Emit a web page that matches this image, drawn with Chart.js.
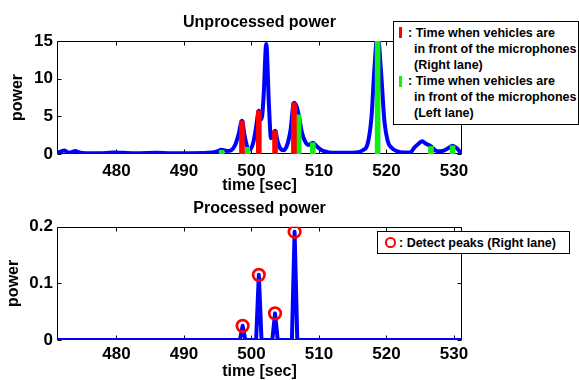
<!DOCTYPE html>
<html lang="en">
<head>
<meta charset="UTF-8">
<title>Unprocessed / Processed power</title>
<script src="https://cdn.jsdelivr.net/npm/chart.js"></script>
<style>
  body { margin: 0; width: 579px; height: 380px; overflow: hidden; background: #fff; position: relative;
         font-family: "Liberation Sans", Arial, sans-serif; }
  canvas { position: absolute; left: 0; }
  #chartRaw { top: 0; }
  #chartProc { top: 186px; }
  .legendBox { position: absolute; background: #fff; border: 1px solid #000; box-sizing: border-box;
               font-weight: bold; font-size: 12.5px; color: #000; }
  .legendBox span { position: absolute; white-space: nowrap; line-height: 16px; }
  .legendBox .bar { position: absolute; width: 3px; height: 11px; }
  .legendBox .ring { position: absolute; width: 10.7px; height: 10.7px; box-sizing: border-box;
                     border: 2px solid #ff0000; border-radius: 50%; }
</style>
</head>
<body>

<canvas id="chartRaw" width="579" height="200"></canvas>
<canvas id="chartProc" width="579" height="200"></canvas>

<div class="legendBox" style="left:393px; top:21px; width:186px; height:104px;">
  <div class="bar" style="left:5px; top:5px; background:#ff0000;"></div>
  <span style="left:14px; top:2.5px;">: Time when vehicles are</span>
  <span style="left:20px; top:18.5px;">in front of the microphones</span>
  <span style="left:20px; top:34.5px;">(Right lane)</span>
  <div class="bar" style="left:5px; top:54px; background:#11ee11;"></div>
  <span style="left:14px; top:50.5px;">: Time when vehicles are</span>
  <span style="left:20px; top:66.5px;">in front of the microphones</span>
  <span style="left:20px; top:82.5px;">(Left lane)</span>
</div>

<div class="legendBox" style="left:377px; top:231px; width:193px; height:23px;">
  <div class="ring" style="left:7px; top:5px;"></div>
  <span style="left:21px; top:3.3px;">: Detect peaks (Right lane)</span>
</div>

<script>
// ---- data ----
const xTicks = [480, 490, 500, 510, 520, 530];
const yTicksRaw = [0, 5, 10, 15];
const yTicksProc = [0, 0.1, 0.2];

// unprocessed power (blue curve)
const timeRaw = [471.2, 471.8, 472.3, 472.9, 473.4, 473.9, 474.5, 475.5, 477.5, 479.5,
  481.0, 483.0, 486.0, 488.0, 491.0, 493.5, 494.8, 495.6, 496.4, 497.0,
  497.6, 498.1, 498.6, 499.0, 499.4, 499.8, 500.3, 500.7, 501.1, 501.5,
  501.8, 502.2, 502.6, 502.9, 503.2, 503.5, 503.9, 504.3, 504.8, 505.3,
  505.8, 506.3, 506.7, 507.0, 507.5, 508.0, 508.5, 509.1, 509.7, 510.4,
  511.3, 512.5, 514.0, 515.5, 516.5, 517.2, 517.8, 518.2, 518.7, 519.2,
  519.7, 520.2, 520.8, 521.5, 522.5, 523.5, 524.2, 524.8, 525.3, 525.8,
  526.6, 527.2, 527.8, 528.5, 529.2, 529.8, 530.4, 531.0, 531.2];
const powerRaw = [0.15, 0.35, 0.45, 0.2, 0.25, 0.4, 0.2, 0.1, 0.1, 0.2,
  0.15, 0.1, 0.15, 0.1, 0.1, 0.15, 0.3, 0.55, 0.4, 0.5,
  1.2, 2.6, 4.4, 2.4, 0.9, 0.6, 1.6, 3.6, 5.75, 4.6,
  7.5, 14.6, 6.5, 2.1, 2.4, 3.1, 1.6, 0.7, 0.5, 1.2,
  3.2, 6.8, 6.3, 5.2, 2.8, 1.6, 1.2, 1.5, 1.0, 0.5,
  0.25, 0.15, 0.15, 0.2, 0.5, 1.3, 5.0, 11.0, 16.0, 11.0,
  4.4, 1.7, 0.8, 0.4, 0.2, 0.2, 0.9, 1.4, 1.7, 1.4,
  1.0, 0.5, 0.35, 0.45, 0.8, 1.1, 0.8, 0.2, 0.05];

// vehicle passing times
const rightLaneTime = [498.6, 501.1, 503.5, 506.3];
const rightLaneHeight = [4.4, 5.75, 3.1, 6.8];
const leftLaneTime = [495.6, 499.4, 507.0, 509.1, 518.7, 526.6, 529.8];
const leftLaneHeight = [0.5, 0.9, 5.2, 1.5, 15, 1.0, 1.1];

// processed power
const timeProc = [471.2, 498.3, 498.7, 499.1, 500.7, 501.1, 501.5, 503.1, 503.5, 503.9, 506.0, 506.4, 506.8, 531.2];
const powerProc = [0, 0, 0.025, 0, 0, 0.115, 0, 0, 0.047, 0, 0, 0.191, 0, 0];
const peakTime = [498.7, 501.1, 503.5, 506.4];
const peakValue = [0.025, 0.115, 0.047, 0.191];

Chart.defaults.font.family = '"Liberation Sans", Arial, sans-serif';
Chart.defaults.color = '#000';

function pts(xs, ys) {
  return xs.map((x, i) => ({ x: x, y: ys[i] }));
}

// MATLAB-like box with inward tick marks
const axesBox = {
  id: 'axesBox',
  beforeDatasetsDraw(chart) {
    const { ctx, chartArea: a, scales: { x, y } } = chart;
    const L = Math.round(a.left) + 0.5, R = Math.round(a.right) - 0.5;
    const T = Math.round(a.top) + 0.5, B = Math.round(a.bottom) - 0.5;
    ctx.save();
    ctx.strokeStyle = '#000';
    ctx.lineWidth = 1;
    ctx.beginPath();
    x.ticks.forEach(t => {
      const px = Math.round(x.getPixelForValue(t.value)) + 0.5;
      ctx.moveTo(px, B); ctx.lineTo(px, B - 4);
      ctx.moveTo(px, T); ctx.lineTo(px, T + 4);
    });
    y.ticks.forEach(t => {
      const py = Math.round(y.getPixelForValue(t.value)) + 0.5;
      ctx.moveTo(L, py); ctx.lineTo(L + 4, py);
      ctx.moveTo(R, py); ctx.lineTo(R - 4, py);
    });
    ctx.rect(L, T, R - L, B - T);
    ctx.stroke();
    ctx.restore();
  }
};

function plotPanel(canvasId, title, datasets, yMax, yTicks, pad) {
  return new Chart(document.getElementById(canvasId), {
    type: 'line',
    data: { datasets: datasets },
    options: {
      responsive: false,
      animation: false,
      devicePixelRatio: 1,
      layout: { padding: { left: 0, top: 0, right: 117, bottom: 0 } },
      plugins: {
        legend: { display: false },
        tooltip: { enabled: false },
        title: {
          display: true, text: title, fullSize: false, color: '#000',
          font: { size: 16, weight: 'bold' },
          padding: { top: pad.titleTop, bottom: pad.titleBottom }
        }
      },
      scales: {
        x: {
          type: 'linear', min: 471.2, max: 531.2, offset: false,
          grid: { display: false, drawTicks: false }, border: { display: false },
          afterFit: s => { s.height = 46; },
          afterBuildTicks: s => { s.ticks = xTicks.map(v => ({ value: v })); },
          ticks: { color: '#000', font: { size: 17, weight: 'bold' }, padding: pad.xTick, maxRotation: 0, autoSkip: false },
          title: { display: true, text: 'time [sec]', color: '#000', font: { size: 16, weight: 'bold' }, padding: { top: 0, bottom: 5 } }
        },
        y: {
          min: 0, max: yMax,
          grid: { display: false, drawTicks: false }, border: { display: false },
          afterFit: s => { s.width = 57; },
          afterBuildTicks: s => { s.ticks = yTicks.map(v => ({ value: v })); },
          ticks: { color: '#000', font: { size: 17, weight: 'bold' }, padding: 4, callback: v => String(v) },
          title: { display: true, text: 'power', color: '#000', font: { size: 16, weight: 'bold' }, padding: { top: pad.yTitle, bottom: 0 } }
        }
      }
    },
    plugins: [axesBox]
  });
}

plotPanel('chartRaw', 'Unprocessed power', [
  { type: 'bar', data: pts(rightLaneTime, rightLaneHeight), backgroundColor: '#ff0000', borderWidth: 0,
    barThickness: 5, grouped: false, order: 0 },
  { type: 'bar', data: pts(leftLaneTime, leftLaneHeight), backgroundColor: '#11ee11', borderWidth: 0,
    barThickness: 5, grouped: false, order: 1 },
  { data: pts(timeRaw, powerRaw), borderColor: '#0000ff', borderWidth: 4, pointRadius: 0,
    cubicInterpolationMode: 'monotone', borderJoinStyle: 'round', borderCapStyle: 'round', order: 2 }
], 15, yTicksRaw, { titleTop: 12.5, titleBottom: 9.3, xTick: 7, yTitle: 8 });

plotPanel('chartProc', 'Processed power', [
  { data: pts(peakTime, peakValue), showLine: false, pointRadius: 5.8, pointBorderWidth: 2.7,
    pointBorderColor: '#ff0000', pointBackgroundColor: 'rgba(0,0,0,0)', order: 0 },
  { data: pts(timeProc, powerProc), borderColor: '#0000ff', borderWidth: 4, pointRadius: 0,
    tension: 0, borderJoinStyle: 'round', order: 1 }
], 0.2, yTicksProc, { titleTop: 12.5, titleBottom: 9, xTick: 4, yTitle: 4 });
</script>
</body>
</html>
